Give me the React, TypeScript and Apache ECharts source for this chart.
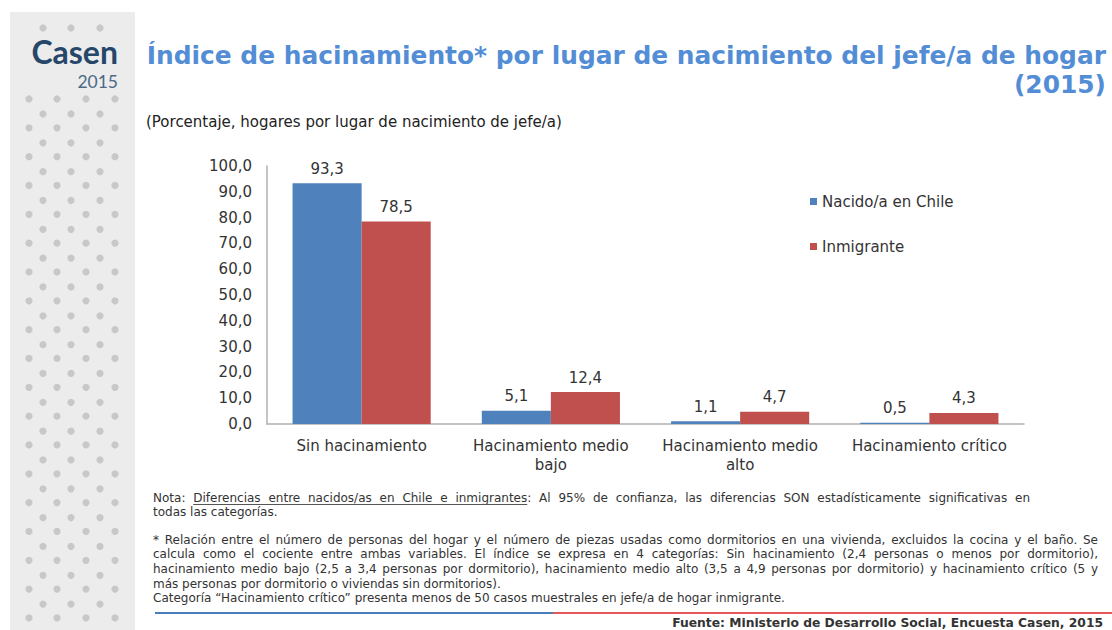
import React, { useEffect, useRef } from "react";
import * as echarts from "echarts";

const categories = [
  "Sin hacinamiento",
  "Hacinamiento medio\nbajo",
  "Hacinamiento medio\nalto",
  "Hacinamiento crítico",
];
const seriesNames = ["Nacido/a en Chile", "Inmigrante"];
const chileValues = [93.3, 5.1, 1.1, 0.5];
const inmigranteValues = [78.5, 12.4, 4.7, 4.3];
const yMin = 0;
const yMax = 100;
const yInterval = 10;

const titleLine1 = "Índice de hacinamiento* por lugar de nacimiento del jefe/a de hogar";
const titleLine2 = "(2015)";
const subtitle = "(Porcentaje, hogares por lugar de nacimiento de jefe/a)";
const logoWord = "Casen";
const logoYear = "2015";
const notaLines = [
  "Nota: Diferencias entre nacidos/as en Chile e inmigrantes: Al 95% de confianza, las diferencias SON estadísticamente significativas en",
  "todas las categorías.",
];
const defLines = [
  "* Relación entre el número de personas del hogar y el número de piezas usadas como dormitorios en una vivienda, excluidos la cocina y el baño. Se",
  "calcula como el cociente entre ambas variables. El índice se expresa en 4 categorías: Sin hacinamiento (2,4 personas o menos por dormitorio),",
  "hacinamiento medio bajo (2,5 a 3,4 personas por dormitorio), hacinamiento medio alto (3,5 a 4,9 personas por dormitorio) y hacinamiento crítico (5 y",
  "más personas por dormitorio o viviendas sin dormitorios).",
  "Categoría “Hacinamiento crítico” presenta menos de 50 casos muestrales en jefe/a de hogar inmigrante.",
];
const sourceText = "Fuente: Ministerio de Desarrollo Social, Encuesta Casen, 2015";

const BLUE = "#4F81BD";
const RED = "#C0504D";
const TEXT = "#333333";
const FONT = "DejaVu Sans";

const fmt = (v: number) => v.toFixed(1).replace(".", ",");

let measureCtx: CanvasRenderingContext2D | null = null;
function measure(text: string, size: number, weight = "normal", family = FONT) {
  if (!measureCtx) {
    const c = document.createElement("canvas");
    measureCtx = c.getContext("2d");
  }
  if (!measureCtx) return text.length * size * 0.6;
  measureCtx.font = `${weight} ${size}px "${family}"`;
  return measureCtx.measureText(text).width;
}

function textEl(text: string, x: number, y: number, size: number, opts: any = {}) {
  return {
    type: "text",
    x,
    y,
    silent: true,
    style: {
      text,
      fill: opts.fill || TEXT,
      fontSize: size,
      fontFamily: opts.family || FONT,
      fontWeight: opts.weight || "normal",
      align: opts.align || "left",
      verticalAlign: "middle",
    },
  };
}

function justified(text: string, x0: number, x1: number, y: number, size: number) {
  const words = text.split(" ");
  const widths = words.map((w) => measure(w, size));
  const total = widths.reduce((a, b) => a + b, 0);
  const gap = words.length > 1 ? (x1 - x0 - total) / (words.length - 1) : 0;
  let x = x0;
  const els: any[] = [];
  const pos: number[] = [];
  words.forEach((w, i) => {
    pos.push(x);
    els.push(textEl(w, x, y, size));
    x += widths[i] + gap;
  });
  return { els, pos, widths };
}

export default function App() {
  const ref = useRef<HTMLDivElement>(null);

  useEffect(() => {
    if (!ref.current) return;
    const chart = echarts.init(ref.current, null, { renderer: "svg" });

    const graphics: any[] = [];
    // sidebar
    graphics.push({
      type: "rect",
      silent: true,
      shape: { x: 10, y: 12, width: 125, height: 618 },
      style: { fill: "#ECECEC" },
    });
    const fullX = [29, 57, 86, 115];
    const offX = [43, 71, 100];
    const step = 28.83;
    const dot = (x: number, y: number) => ({
      type: "circle",
      silent: true,
      shape: { cx: x, cy: y, r: 3.6 },
      style: { fill: "#C8C8C8" },
    });
    offX.forEach((x) => graphics.push(dot(x, 28)));
    for (let k = 0; k <= 18; k++) fullX.forEach((x) => graphics.push(dot(x, 99 + k * step)));
    for (let k = 0; k <= 17; k++) offX.forEach((x) => graphics.push(dot(x, 114 + k * step)));
    graphics.push(
      textEl(logoWord, 118, 51, 32, { weight: "bold", family: "Lato", fill: "#26476A", align: "right" })
    );
    graphics.push(textEl(logoYear, 118, 81.5, 17.5, { family: "Lato", fill: "#4E6886", align: "right" }));

    // title
    const tW = measure(titleLine1, 24, "bold");
    const tSize = Math.max(21, Math.min(27, (24 * 960) / tW));
    graphics.push(textEl(titleLine1, 1106, 55.5, tSize, { weight: "bold", fill: "#538DD5", align: "right" }));
    graphics.push(textEl(titleLine2, 1106, 84.5, tSize, { weight: "bold", fill: "#538DD5", align: "right" }));
    graphics.push(textEl(subtitle, 146, 122, 15, { fill: "#222222" }));

    // footnotes
    const fs = 12;
    const n1 = justified(notaLines[0], 153, 1030, 498, fs);
    graphics.push(...n1.els);
    const uStart = n1.pos[1];
    const uEnd = n1.pos[7] + measure("inmigrantes", fs);
    graphics.push({
      type: "line",
      silent: true,
      shape: { x1: uStart, y1: 504.5, x2: uEnd, y2: 504.5 },
      style: { stroke: "#555555", lineWidth: 1 },
    });
    graphics.push(textEl(notaLines[1], 153, 512, fs));
    const defY = [540, 554, 569, 584, 598];
    defLines.forEach((l, i) => {
      if (i < 3) graphics.push(...justified(l, 153, 1098, defY[i], fs).els);
      else graphics.push(textEl(l, 153, defY[i], fs));
    });
    // bottom rule
    graphics.push({
      type: "line",
      silent: true,
      shape: { x1: 155, y1: 613, x2: 553, y2: 613 },
      style: { stroke: "#4A7EBB", lineWidth: 2 },
    });
    graphics.push({
      type: "line",
      silent: true,
      shape: { x1: 553, y1: 613, x2: 1112, y2: 613 },
      style: { stroke: "#E8555A", lineWidth: 2 },
    });
    graphics.push(textEl(sourceText, 1103, 623, 12.3, { weight: "bold", align: "right", fill: "#333333" }));

    const labelCfg = {
      show: true,
      position: "top",
      distance: 7,
      color: TEXT,
      fontSize: 15,
      fontFamily: FONT,
      formatter: (p: any) => fmt(p.value),
    };

    chart.setOption({
      animation: false,
      textStyle: { fontFamily: FONT },
      grid: {
        left: 267,
        right: 88,
        top: 166,
        bottom: 206,
        containLabel: false,
        outerBoundsMode: "none",
      },
      legend: {
        orient: "vertical",
        left: 805,
        top: 189,
        itemWidth: 7,
        itemHeight: 7,
        itemGap: 30,
        icon: "rect",
        textStyle: { color: TEXT, fontSize: 15, fontFamily: FONT },
        data: seriesNames,
      },
      xAxis: {
        type: "category",
        data: categories,
        axisLine: { show: true, lineStyle: { color: "#B0B0B0", width: 1.5 } },
        axisTick: { show: false },
        axisLabel: {
          color: TEXT,
          fontSize: 15,
          fontFamily: FONT,
          lineHeight: 19,
          margin: 12,
          interval: 0,
        },
      },
      yAxis: {
        type: "value",
        min: yMin,
        max: yMax,
        interval: yInterval,
        axisLine: { show: true, lineStyle: { color: "#B0B0B0", width: 1.5 } },
        axisTick: { show: false },
        splitLine: { show: false },
        axisLabel: {
          color: TEXT,
          fontSize: 15,
          fontFamily: FONT,
          margin: 15,
          formatter: (v: number) => fmt(v),
        },
      },
      series: [
        {
          name: seriesNames[0],
          type: "bar",
          data: chileValues,
          itemStyle: { color: BLUE },
          barGap: "0%",
          barCategoryGap: "27%",
          label: labelCfg,
        },
        {
          name: seriesNames[1],
          type: "bar",
          data: inmigranteValues,
          itemStyle: { color: RED },
          barGap: "0%",
          barCategoryGap: "27%",
          label: labelCfg,
        },
      ],
      graphic: graphics,
    });

    return () => chart.dispose();
  }, []);

  return (
    <div
      ref={ref}
      style={{ position: "fixed", left: 0, top: 0, width: 1112, height: 630, background: "#ffffff" }}
    />
  );
}
